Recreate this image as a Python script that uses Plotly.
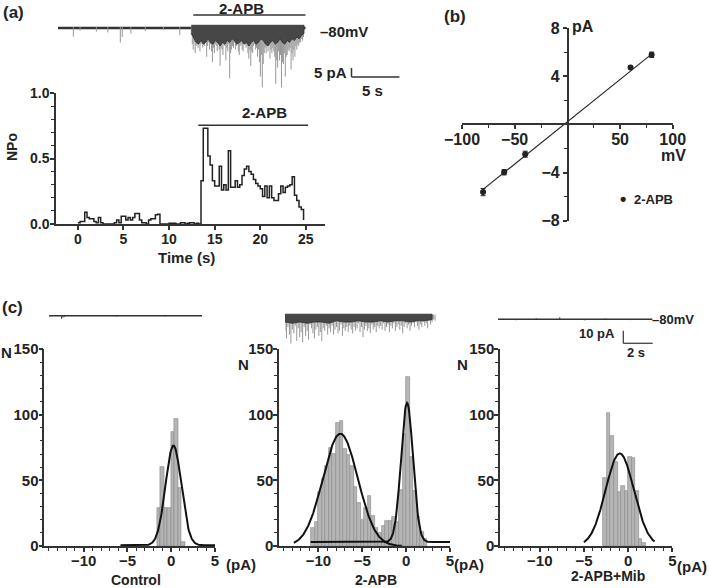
import numpy as np
import plotly.graph_objects as go

W, H = 709, 588
FONT = 'Liberation Sans, Arial, sans-serif'
INK = '#222222'

# ---------------- (a) raw trace, -80 mV ----------------
trace_a_end = 25.8                       # s
pre_spike_t = [1.6, 2.3, 4.0, 5.2, 6.5, 6.7, 7.6, 9.1, 11.0, 12.7]
pre_spike_i = [-4.8, -1.5, -2.0, -2.5, -8.1, -5.0, -3.0, -1.8, -1.2, -3.9]
apb_start, apb_step = 13.9, 0.1          # 2-APB part, deepest current per 0.1 s
apb_depth = [-4, -9, -12, -8, -14, -10, -9, -11, -7, -13,
             -9, -8, -11, -7, -10, -8, -16, -10, -8, -12,
             -9, -13, -19, -11, -14, -9, -10, -13, -8, -12,
             -21, -11, -12, -15, -9, -10, -18, -11, -13, -9,
             -28, -14, -12, -10, -11, -8, -12, -10, -9, -13,
             -15, -10, -9, -12, -13, -8, -9, -11, -10, -14,
             -17, -12, -21, -13, -14, -10, -9, -12, -11, -16,
             -12, -19, -27, -15, -33, -20, -14, -11, -14, -10,
             -13, -9, -17, -12, -14, -11, -13, -16, -31, -18,
             -22, -13, -18, -15, -33, -19, -20, -14, -27, -16,
             -15, -12, -13, -11, -23, -14, -18, -12, -16, -10,
             -12, -9, -10, -8, -8, -6, -7, -5]
core_step = 0.25                         # dense part of the 2-APB trace
apb_core = [-3, -6, -8, -9, -7, -9, -8, -6, -8, -9, -7, -8,
            -10, -8, -9, -7, -8, -6, -7, -9, -8, -7, -9, -8,
            -10, -8, -7, -9, -8, -6, -7, -9, -10, -8, -7, -9,
            -8, -6, -8, -9, -7, -8, -6, -7, -5, -6, -4, -3]

# ---------------- (a) NPo, 0.25 s bins from t = 0 ----------------
npo_bin = 0.25
npo = [0.01, 0.02, 0.02, 0.09, 0.05, 0.04, 0.04, 0.02, 0.01, 0.05,
       0.01, 0, 0, 0, 0, 0, 0.01, 0.03, 0.01, 0.06,
       0.06, 0.03, 0.05, 0.03, 0.05, 0.08, 0.08, 0.03, 0.01, 0.01,
       0, 0.03, 0.04, 0.04, 0.07, 0.075, 0, 0, 0, 0,
       0.005, 0.005, 0.005, 0, 0, 0.01, 0.01, 0, 0.005, 0.01,
       0.01, 0, 0.005, 0,
       0.33, 0.73, 0.73, 0.52, 0.45, 0.33, 0.29, 0.29, 0.44, 0.26,
       0.30, 0.26, 0.56, 0.28, 0.28, 0.33, 0.28, 0.30, 0.37, 0.42,
       0.44, 0.40, 0.38, 0.34, 0.31, 0.29, 0.27, 0.21, 0.29, 0.20,
       0.29, 0.20, 0.18, 0.18, 0.23, 0.29, 0.24, 0.28, 0.29, 0.30,
       0.36, 0.22, 0.18, 0.13, 0.11]
npo_last = 0.03

# ---------------- (b) I-V ----------------
iv_v = [-80, -60, -40, 60, 80]
iv_i = [-5.62, -3.97, -2.47, 4.75, 5.8]
iv_err = [0.3, 0.22, 0.25, 0.1, 0.22]
fit_v = [-80, 80]
fit_i = [-5.4, 5.85]

# ---------------- (c) traces (10 pA / 2 s) ----------------
ctrl_c_end = 10.4
ctrl_c_t = [0.85, 0.95, 1.05, 4.6, 7.9]
ctrl_c_i = [-2.5, -1.6, -1.0, -0.8, -0.7]
apb_c_step = 0.1
apb_c_depth = [-12, -18, -9, -15, -22, -11, -14, -8, -20, -10,
               -17, -13, -21, -9, -16, -12, -19, -7, -10, -14,
               -18, -11, -9, -16, -13, -20, -10, -12, -8, -15,
               -10, -13, -8, -15, -11, -9, -14, -12, -7, -16,
               -10, -12, -9, -13, -8, -11, -14, -9, -12, -10,
               -6, -13, -9, -17, -11, -8, -12, -10, -14, -7,
               -11, -9, -13, -8, -10,
               -8, -11, -6, -12, -9, -7, -13, -8, -10, -6,
               -12, -9, -7, -11, -8, -14, -9, -6, -10, -7,
               -12, -8, -6, -9, -5, -8, -11, -7, -9, -5,
               -8, -6, -10, -4, -7, -5, -3, -4]
apb_c_core_step = 0.5
apb_c_core = [-5, -6, -5, -6, -5, -5, -6, -4, -5, -5, -4,
              -5, -5, -4, -5, -4, -4, -5, -4, -4, -3]
mib_c_end = 10.5
mib_c_t = [1.2, 2.6, 4.2, 5.9, 7.3, 9.0]
mib_c_i = [-0.8, 0.9, 1.6, -0.9, 0.8, -0.7]

# ---------------- (c) amplitude histograms, 0.4 pA bins ----------------
hist_bin = 0.4
ctrl_edge0 = -1.6
ctrl_counts = [29, 60, 29, 29, 87, 97, 44, 3]
apb_edge0 = -10.8
apb_counts = [14, 18, 41, 51, 61, 75, 70, 94, 95, 74,
              69, 61, 45, 33, 20, 29, 38, 23, 14, 10,
              15, 19, 19, 22, 18, 43, 85, 129, 68, 42,
              22, 11, 5]
mib_edge0 = -2.8
mib_counts = [52, 101, 84, 64, 41, 46, 42, 68, 67, 42, 5, 2]

# Gaussian fits: amplitude, mean, sigma, offset, drawn span
ctrl_fit = (76, 0.25, 0.9, 0.5, -5.8, 5.0)
apb_fit_open = (85.5, -7.5, 1.98, 0.0, -12.8, -0.5)
apb_fit_closed = (106, 0.1, 0.68, 3.0, -10.9, 5.0)
mib_fit = (70.5, -0.95, 1.6, 0.0, -5.0, 3.0)


def dom_x(a, b):
    return [a / W, b / W]


def dom_y(top, bottom):
    return [1 - bottom / H, 1 - top / H]


def spikes(ts, amps, base=0.0):
    xs, ys = [], []
    for t, a in zip(ts, amps):
        xs += [t, t, None]
        ys += [base, a, None]
    return xs, ys


def even_spikes(t0, dt, depths, base):
    return spikes([t0 + k * dt for k in range(len(depths))], depths, base)


def band(t0, dt, lower, top):
    ts = [t0 + k * dt for k in range(len(lower))]
    return ts + ts[::-1], list(lower) + [top] * len(lower)


def gauss_curve(p):
    amp, mu, sig, base, lo, hi = p
    x = np.linspace(lo, hi, 300)
    return x, base + amp * np.exp(-0.5 * ((x - mu) / sig) ** 2)


fig = go.Figure()
GRAY_TRACE = '#979797'
DARK_TRACE = '#474747'

# ---- (a) trace ----
fig.add_trace(go.Scatter(x=[0, trace_a_end], y=[0, 0], mode='lines',
                         line=dict(color='#333333', width=2.5), xaxis='x', yaxis='y'))
sx, sy = spikes(pre_spike_t, pre_spike_i, 0.5)
fig.add_trace(go.Scatter(x=sx, y=sy, mode='lines', line=dict(color=GRAY_TRACE, width=1),
                         xaxis='x', yaxis='y'))
sx, sy = even_spikes(apb_start, apb_step, apb_depth, 1.0)
fig.add_trace(go.Scatter(x=sx, y=sy, mode='lines', line=dict(color=GRAY_TRACE, width=1),
                         xaxis='x', yaxis='y'))
bx, by = band(apb_start, core_step, apb_core, 1.5)
fig.add_trace(go.Scatter(x=bx, y=by, mode='lines', fill='toself', fillcolor=DARK_TRACE,
                         line=dict(color='#2e2e2e', width=0.8), xaxis='x', yaxis='y'))

# ---- (a) NPo ----
npo_t = [k * npo_bin for k in range(len(npo))]
npo_end = len(npo) * npo_bin
fig.add_trace(go.Scatter(x=npo_t + [npo_end, npo_end], y=npo + [npo[-1], npo_last],
                         mode='lines', line=dict(color=INK, width=1.5, shape='hv'),
                         xaxis='x2', yaxis='y2'))

# ---- (b) I-V ----
fig.add_trace(go.Scatter(x=fit_v, y=fit_i, mode='lines', line=dict(color=INK, width=1.1),
                         xaxis='x3', yaxis='y3'))
fig.add_trace(go.Scatter(x=iv_v, y=iv_i, mode='markers',
                         marker=dict(color=INK, size=6),
                         error_y=dict(type='data', array=iv_err, color=INK, thickness=1, width=2.5),
                         xaxis='x3', yaxis='y3'))

# ---- (c) traces ----
fig.add_trace(go.Scatter(x=[0, ctrl_c_end], y=[0, 0], mode='lines',
                         line=dict(color='#333333', width=1.6), xaxis='x4', yaxis='y4'))
sx, sy = spikes(ctrl_c_t, ctrl_c_i)
fig.add_trace(go.Scatter(x=sx, y=sy, mode='lines', line=dict(color='#444444', width=1),
                         xaxis='x4', yaxis='y4'))

sx, sy = even_spikes(0, apb_c_step, apb_c_depth, 0.8)
fig.add_trace(go.Scatter(x=sx, y=sy, mode='lines', line=dict(color=GRAY_TRACE, width=1),
                         xaxis='x5', yaxis='y5'))
bx, by = band(0, apb_c_core_step, apb_c_core, 1.2)
fig.add_trace(go.Scatter(x=bx, y=by, mode='lines', fill='toself', fillcolor=DARK_TRACE,
                         line=dict(color='#2e2e2e', width=0.8), xaxis='x5', yaxis='y5'))

fig.add_trace(go.Scatter(x=[0, mib_c_end], y=[0, 0], mode='lines',
                         line=dict(color='#333333', width=1.6), xaxis='x6', yaxis='y6'))
sx, sy = spikes(mib_c_t, mib_c_i)
fig.add_trace(go.Scatter(x=sx, y=sy, mode='lines', line=dict(color='#444444', width=1),
                         xaxis='x6', yaxis='y6'))

# ---- (c) histograms ----
hists = [
    (ctrl_edge0, ctrl_counts, [ctrl_fit], '7'),
    (apb_edge0, apb_counts, [apb_fit_open, apb_fit_closed], '8'),
    (mib_edge0, mib_counts, [mib_fit], '9'),
]
for edge0, counts, fits, ax in hists:
    centers = [edge0 + hist_bin * (k + 0.5) for k in range(len(counts))]
    fig.add_trace(go.Bar(x=centers, y=counts, width=hist_bin,
                         marker=dict(color='#b5b5b5', line=dict(color='#8e8e8e', width=0.7)),
                         xaxis='x' + ax, yaxis='y' + ax))
    for p in fits:
        gx, gy = gauss_curve(p)
        fig.add_trace(go.Scatter(x=gx, y=gy, mode='lines', line=dict(color='#111111', width=2),
                                 xaxis='x' + ax, yaxis='y' + ax))

# ---------------- axes ----------------
hidden = dict(visible=False, fixedrange=True, showgrid=False, zeroline=False)
line_ax = dict(showline=True, linecolor='#333333', linewidth=1.5, ticks='outside',
               tickcolor='#333333', tickwidth=1.5, ticklen=4, showgrid=False,
               zeroline=False, fixedrange=True, automargin=False)
minor_ax = dict(ticks='outside', ticklen=3, tickwidth=1.2, tickcolor='#333333')

layout_axes = {
    # (a) trace
    'xaxis': dict(hidden, domain=dom_x(58, 410), range=[0, 36.7], anchor='y'),
    'yaxis': dict(hidden, domain=dom_y(8, 100), range=[-40, 11.1], anchor='x'),
    # (a) NPo
    'xaxis2': dict(line_ax, domain=dom_x(56, 325), range=[-2.4, 27.1], anchor='y2',
                   tickvals=[0, 5, 10, 15, 20, 25], tickfont=dict(size=14),
                   ticklabelstandoff=-3),
    'yaxis2': dict(line_ax, domain=dom_y(93, 224), range=[0, 1.0], anchor='x2',
                   tickvals=[0, 0.5, 1.0], tickformat='.1f', tickfont=dict(size=14),
                   ticklabelstandoff=-2, minor=dict(minor_ax, dtick=0.1)),
    # (b) I-V, axes crossing at the origin
    'xaxis3': dict(line_ax, domain=dom_x(462, 672.7), range=[-100, 100], anchor='free',
                   position=1 - 124.3 / H, tickvals=[-100, -50, 50, 100],
                   tickfont=dict(size=16), ticklabelstandoff=-3,
                   minor=dict(minor_ax, dtick=25)),
    'yaxis3': dict(line_ax, domain=dom_y(28.3, 220.7), range=[-8, 8], anchor='free',
                   position=567.7 / W, tickvals=[-8, -4, 4, 8], tickfont=dict(size=16),
                   minor=dict(minor_ax, dtick=2)),
    # (c) traces
    'xaxis4': dict(hidden, domain=dom_x(49, 202), range=[0, 10.4], anchor='y4'),
    'yaxis4': dict(hidden, domain=dom_y(305, 350), range=[-27.2, 8.5], anchor='x4'),
    'xaxis5': dict(hidden, domain=dom_x(285, 438), range=[0, 10.4], anchor='y5'),
    'yaxis5': dict(hidden, domain=dom_y(305, 350), range=[-27.2, 8.5], anchor='x5'),
    'xaxis6': dict(hidden, domain=dom_x(498, 709), range=[0, 14.35], anchor='y6'),
    'yaxis6': dict(hidden, domain=dom_y(305, 350), range=[-24.4, 11.3], anchor='x6'),
}
hist_dom = {'7': (44.3, 215), '8': (279, 450), '9': (500, 672.3)}
for ax, (a, b) in hist_dom.items():
    layout_axes['xaxis' + ax] = dict(line_ax, domain=dom_x(a, b), range=[-14.5, 5],
                                     anchor='y' + ax, tickvals=[-10, -5, 0, 5],
                                     tickfont=dict(size=15), ticklabelstandoff=-4,
                                     minor=dict(minor_ax, dtick=1))
    layout_axes['yaxis' + ax] = dict(line_ax, domain=dom_y(349, 546), range=[0, 150],
                                     anchor='x' + ax, tickvals=[0, 50, 100, 150],
                                     tickfont=dict(size=15), ticklabelstandoff=-3,
                                     minor=dict(minor_ax, dtick=10))


def label(text, px, py, size=14, **kw):
    return dict(text=text, x=px / W, y=1 - py / H, xref='paper', yref='paper',
                showarrow=False, font=dict(size=size, color=INK),
                xanchor=kw.pop('xanchor', 'center'), yanchor='middle', **kw)


annotations = [
    label('(a)', 13, 13, 17), label('(b)', 455, 16, 17), label('(c)', 12, 307, 17),
    # (a) trace
    label('2-APB', 241, 9, 15), label('–80mV', 344, 32, 15),
    label('5 pA', 330, 72, 15), label('5 s', 372, 90, 15),
    # (a) NPo
    label('2-APB', 264, 112, 15), label('NPo', 12, 147, 14, textangle=-90),
    label('Time (s)', 187, 258, 15),
    # (b)
    label('pA', 583, 27, 16), label('mV', 673, 155, 16),
    label('•', 623, 199, 18), label('2-APB', 653, 200, 13),
    # (c)
    label('–80mV', 673, 319, 13), label('10 pA', 597, 333, 13), label('2 s', 636, 353, 13),
    label('N', 6, 353, 15), label('N', 243, 364, 15), label('N', 462, 364, 15),
    label('(pA)', 241, 564, 15), label('(pA)', 469, 564, 15), label('(pA)', 692, 566, 15),
    label('Control', 136, 580, 14), label('2-APB', 376, 580, 14),
    label('2-APB+Mib', 608, 576, 14),
]

bar_line = dict(color='#333333', width=1.5)
shapes = [
    # 2-APB application bars
    dict(type='line', xref='x', yref='y', x0=14.1, x1=25.8, y0=7.2, y1=7.2, line=bar_line),
    dict(type='line', xref='x2', yref='y2', x0=13.2, x1=25.25, y0=0.753, y1=0.753,
         line=bar_line),
    # scale bar (a): 5 pA / 5 s
    dict(type='line', xref='x', yref='y', x0=30.6, x1=30.6, y0=-22.2, y1=-27.2, line=bar_line),
    dict(type='line', xref='x', yref='y', x0=30.6, x1=35.6, y0=-27.2, y1=-27.2, line=bar_line),
    # scale bar (c): 10 pA / 2 s
    dict(type='line', xref='x6', yref='y6', x0=8.52, x1=8.52, y0=-9.05, y1=-19.05,
         line=dict(color='#333333', width=1.2)),
    dict(type='line', xref='x6', yref='y6', x0=8.52, x1=10.52, y0=-19.05, y1=-19.05,
         line=dict(color='#333333', width=1.2)),
]

fig.update_layout(
    template='none',
    width=W, height=H, autosize=False,
    margin=dict(l=0, r=0, t=0, b=0, autoexpand=False),
    paper_bgcolor='white', plot_bgcolor='white',
    showlegend=False, bargap=0,
    font=dict(family=FONT, size=14, color=INK, weight='bold'),
    annotations=annotations, shapes=shapes,
    **layout_axes,
)

# the page body has a default 8px margin; drop it so the figure fills the window
fig.write_html('out.html', config={'displayModeBar': False},
               post_script="document.body.style.margin='0';document.body.style.overflow='hidden';")
